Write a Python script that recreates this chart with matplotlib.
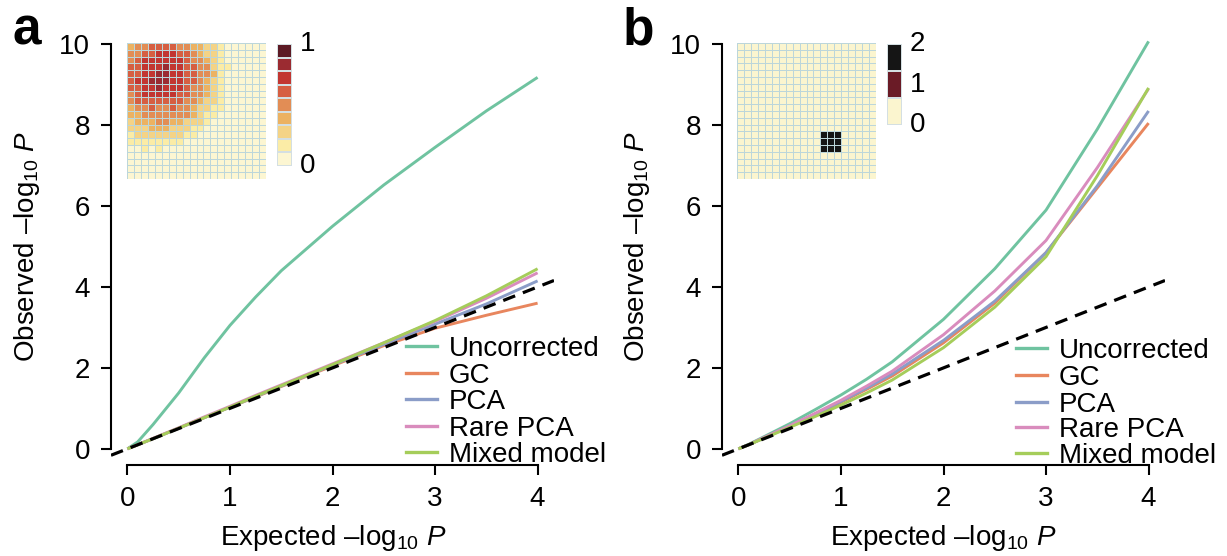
import numpy as np
import matplotlib
matplotlib.use("Agg")
import matplotlib.pyplot as plt
from matplotlib.colors import ListedColormap, BoundaryNorm
from matplotlib.lines import Line2D

plt.rcParams['font.family'] = ['Liberation Sans', 'DejaVu Sans']
plt.rcParams['mathtext.fontset'] = 'custom'
plt.rcParams['mathtext.rm'] = 'Liberation Sans'
plt.rcParams['mathtext.it'] = 'Liberation Sans:italic'

# ---------------- data ----------------
expected = [0, 0.1, 0.25, 0.5, 0.75, 1, 1.25, 1.5, 2, 2.5, 3, 3.5, 4]

series_names = ["Uncorrected", "GC", "PCA", "Rare PCA", "Mixed model"]
series_colors = ["#6fc3a0", "#e8865e", "#8b9dc8", "#d98cbd", "#a5cd5a"]

unc_a = [0, 0.17, 0.6, 1.38, 2.25, 3.05, 3.75, 4.4, 5.5, 6.52, 7.45, 8.35, 9.18]
gc_a = [0, 0.1, 0.25, 0.51, 0.77, 1.03, 1.28, 1.54, 2.05, 2.55, 2.98, 3.3, 3.6]
pca_a = [0, 0.1, 0.25, 0.51, 0.77, 1.03, 1.29, 1.55, 2.07, 2.58, 3.08, 3.58, 4.15]
rare_a = [0, 0.1, 0.26, 0.52, 0.79, 1.05, 1.32, 1.58, 2.1, 2.62, 3.15, 3.72, 4.35]
mixed_a = [0, 0.1, 0.25, 0.51, 0.77, 1.03, 1.3, 1.56, 2.08, 2.62, 3.17, 3.78, 4.45]

unc_b = [0, 0.11, 0.3, 0.62, 0.97, 1.33, 1.72, 2.15, 3.2, 4.45, 5.9, 7.9, 10.07]
gc_b = [0, 0.1, 0.27, 0.55, 0.85, 1.15, 1.47, 1.8, 2.62, 3.6, 4.85, 6.45, 8.05]
pca_b = [0, 0.1, 0.27, 0.56, 0.86, 1.17, 1.5, 1.85, 2.68, 3.65, 4.85, 6.5, 8.35]
rare_b = [0, 0.1, 0.28, 0.57, 0.88, 1.2, 1.55, 1.92, 2.82, 3.9, 5.15, 6.95, 8.9]
mixed_b = [0, 0.1, 0.26, 0.53, 0.8, 1.08, 1.38, 1.7, 2.5, 3.5, 4.75, 6.75, 8.92]

x_ticks = [0, 1, 2, 3, 4]
y_ticks = [0, 2, 4, 6, 8, 10]

# heatmap levels for panel a (0..8), rows top->bottom
heat_a = [
    [3, 4, 4, 5, 5, 5, 5, 4, 4, 3, 3, 2, 2, 1, 0, 0, 0, 0, 0, 0],
    [4, 4, 5, 5, 6, 6, 6, 5, 5, 4, 3, 2, 2, 1, 0, 0, 0, 0, 0, 0],
    [4, 5, 6, 6, 6, 6, 6, 6, 5, 4, 4, 3, 2, 1, 0, 0, 0, 0, 0, 0],
    [5, 5, 6, 6, 6, 7, 6, 6, 5, 5, 4, 4, 2, 1, 1, 0, 0, 0, 0, 0],
    [5, 5, 6, 6, 7, 7, 6, 6, 5, 5, 4, 4, 3, 1, 0, 0, 0, 0, 0, 0],
    [5, 6, 6, 7, 7, 7, 6, 6, 5, 5, 4, 3, 2, 1, 0, 0, 0, 0, 0, 0],
    [5, 5, 6, 6, 7, 6, 6, 6, 5, 4, 4, 3, 2, 1, 0, 0, 0, 0, 0, 0],
    [4, 5, 6, 6, 6, 6, 6, 5, 5, 4, 4, 3, 2, 1, 0, 0, 0, 0, 0, 0],
    [4, 5, 5, 5, 5, 5, 5, 5, 4, 4, 3, 2, 2, 1, 0, 0, 0, 0, 0, 0],
    [3, 4, 4, 5, 4, 4, 5, 4, 4, 3, 2, 2, 1, 1, 0, 0, 0, 0, 0, 0],
    [3, 3, 4, 4, 4, 4, 4, 4, 4, 3, 2, 1, 1, 0, 0, 0, 0, 0, 0, 0],
    [2, 3, 3, 3, 4, 4, 3, 3, 2, 2, 2, 1, 0, 0, 0, 0, 0, 0, 0, 0],
    [2, 2, 2, 3, 3, 3, 2, 2, 2, 1, 1, 0, 0, 0, 0, 0, 0, 0, 0, 0],
    [1, 2, 2, 2, 2, 2, 2, 2, 1, 1, 0, 0, 0, 0, 0, 0, 0, 0, 0, 0],
    [1, 1, 1, 1, 1, 1, 1, 1, 0, 0, 0, 0, 0, 0, 0, 0, 0, 0, 0, 0],
    [0, 0, 1, 0, 1, 0, 0, 0, 0, 0, 0, 0, 0, 0, 0, 0, 0, 0, 0, 0],
    [0, 0, 0, 0, 0, 0, 0, 0, 0, 0, 0, 0, 0, 0, 0, 0, 0, 0, 0, 0],
    [0, 0, 0, 0, 0, 0, 0, 0, 0, 0, 0, 0, 0, 0, 0, 0, 0, 0, 0, 0],
    [0, 0, 0, 0, 0, 0, 0, 0, 0, 0, 0, 0, 0, 0, 0, 0, 0, 0, 0, 0],
    [0, 0, 0, 0, 0, 0, 0, 0, 0, 0, 0, 0, 0, 0, 0, 0, 0, 0, 0, 0],
]
colors_a = ["#fcf6d2", "#fbeca6", "#f4d386", "#ecb262", "#e28d55",
            "#d65f42", "#c23631", "#9b2b31", "#5c1a24"]
cbar_a_labels = ["0", "1"]

grid_b_size = 20
block_b_rows = [13, 14, 15]
block_b_cols = [12, 13, 14]
block_b_value = 2
colors_b = ["#fbf5cf", "#6a1b26", "#151515"]
cbar_b_labels = ["0", "1", "2"]

# ---------------- layout ----------------
W, H = 1227, 556
fig = plt.figure(figsize=(W / 100, H / 100), dpi=100)


def rect(l, t, r, b):
    return [l / W, 1 - b / H, (r - l) / W, (b - t) / H]


FS = 20
panels = [
    dict(ax=rect(111, 28, 554, 465), data=[unc_a, gc_a, pca_a, rare_a, mixed_a],
         heat=rect(127, 43, 266, 179), cbar=rect(277, 44, 292, 166),
         legx=(406, 437, 449), legy=[346, 373, 399, 426, 452],
         letter="a", letter_pos=(12, 45), ylab_x=34, xlab_x=333),
    dict(ax=rect(722, 28, 1165, 465), data=[unc_b, gc_b, pca_b, rare_b, mixed_b],
         heat=rect(737, 43, 876, 179), cbar=rect(887, 44, 902, 125),
         legx=(1016, 1047, 1059), legy=[348, 375, 402, 427, 453],
         letter="b", letter_pos=(623, 45), ylab_x=644, xlab_x=943),
]

for pi, p in enumerate(panels):
    ax = fig.add_axes(p["ax"])
    for ys, c in zip(p["data"], series_colors):
        ax.plot(expected, ys, color=c, lw=2.1, solid_capstyle='butt',
                solid_joinstyle='round', zorder=2)
    ax.axline((0, 0), slope=1, color="black", lw=2.3,
              linestyle=(0, (4, 2.6)), zorder=3)
    ax.set_xlim(-0.16, 4.16)
    ax.set_ylim(-0.4, 10.4)
    ax.set_xticks(x_ticks)
    ax.set_yticks(y_ticks)
    ax.set_xticklabels([str(t) for t in x_ticks])
    ax.set_yticklabels([str(t) for t in y_ticks])
    for s in ["top", "right"]:
        ax.spines[s].set_visible(False)
    ax.spines["left"].set_bounds(0, 10)
    ax.spines["bottom"].set_bounds(0, 4)
    for s in ["left", "bottom"]:
        ax.spines[s].set_linewidth(1.5)
    ax.tick_params(axis="both", length=7, width=1.5, pad=8, labelsize=FS)
    ax.patch.set_visible(False)

    # legend (manual, tight spacing)
    x0, x1, xt = p["legx"]
    for name, c, yy in zip(series_names, series_colors, p["legy"]):
        fig.add_artist(Line2D([x0 / W, x1 / W], [1 - yy / H, 1 - yy / H],
                              transform=fig.transFigure, color=c, lw=2.4))
        fig.text(xt / W, 1 - yy / H, name, fontsize=FS, ha="left",
                 va="center_baseline")

    # axis labels
    fig.text(p["ylab_x"] / W, 1 - 246 / H, "Observed \u2013log$_{10}$ $P$",
             rotation=90, rotation_mode="anchor", ha="center", va="baseline",
             fontsize=FS)
    fig.text(p["xlab_x"] / W, 1 - 545 / H, "Expected \u2013log$_{10}$ $P$",
             ha="center", va="baseline", fontsize=FS)
    fig.text(p["letter_pos"][0] / W, 1 - p["letter_pos"][1] / H, p["letter"],
             fontsize=37, fontweight="bold", ha="left", va="baseline")

    # heatmap inset
    hx = fig.add_axes(p["heat"])
    if pi == 0:
        grid = np.array(heat_a)
        cols = colors_a
        labels = cbar_a_labels
    else:
        grid = np.zeros((grid_b_size, grid_b_size))
        for r in block_b_rows:
            for cc in block_b_cols:
                grid[r, cc] = block_b_value
        cols = colors_b
        labels = cbar_b_labels
    n = len(cols)
    cmap = ListedColormap(cols)
    norm = BoundaryNorm(np.arange(-0.5, n + 0.5, 1), n)
    hx.pcolormesh(grid, cmap=cmap, norm=norm, edgecolors="#bcd6da",
                  linewidth=0.55)
    hx.set_xlim(0, grid.shape[1])
    hx.set_ylim(grid.shape[0], 0)
    hx.set_axis_off()

    # colorbar
    cx = fig.add_axes(p["cbar"])
    levels = np.arange(n).reshape(n, 1)
    cx.pcolormesh(levels, cmap=cmap, norm=norm, edgecolors="#d4dfe2",
                  linewidth=0.35)
    cx.set_xlim(0, 1)
    cx.set_ylim(0, n)
    cx.set_axis_off()
    nl = len(labels)
    xoff = 1.0 + 8 / (p["cbar"][2] * W)
    for i, lab in enumerate(labels):
        frac = i / (nl - 1)
        cx.text(xoff, frac, lab, transform=cx.transAxes,
                fontsize=FS, ha="left", va="center")

fig.savefig("out.png", dpi=100)
